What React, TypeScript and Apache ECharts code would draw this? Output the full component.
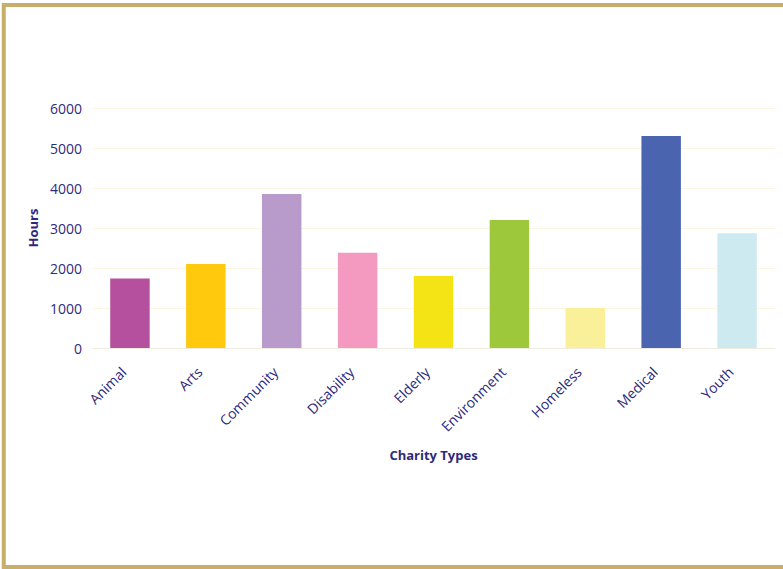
import React, { useEffect, useRef } from "react";
import * as echarts from "echarts";

const categories = ["Animal", "Arts", "Community", "Disability", "Elderly", "Environment", "Homeless", "Medical", "Youth"];
const hours = [1740, 2100, 3850, 2380, 1800, 3200, 1000, 5300, 2870];
const barColors = ["#B5509E", "#FFC90E", "#B89ACB", "#F49AC1", "#F5E415", "#9DC83C", "#FAF09A", "#4A64B0", "#CDEAF0"];
const yTicks = [0, 1000, 2000, 3000, 4000, 5000, 6000];

const textColor = "#2E2A7A";
const font = "'Open Sans', 'Noto Sans', sans-serif";

export default function App() {
  const ref = useRef<HTMLDivElement>(null);
  useEffect(() => {
    if (!ref.current) return;
    const chart = echarts.init(ref.current, null, { renderer: "svg" });
    chart.setOption({
      animation: false,
      backgroundColor: "#ffffff",
      grid: { left: 92, right: 8, top: 108, bottom: 221 },
      graphic: [
        {
          type: "rect",
          shape: { x: 3.75, y: 5, width: 900, height: 562 },
          style: { fill: "none", stroke: "#C9AE6B", lineWidth: 4 },
          silent: true,
        },
      ],
      xAxis: {
        type: "category",
        data: categories,
        name: "Charity Types",
        nameLocation: "middle",
        nameGap: 100,
        nameTextStyle: { color: textColor, fontFamily: font, fontWeight: "bold", fontSize: 13 },
        axisLine: { show: true, lineStyle: { color: "#F1ECE0", width: 1 } },
        axisTick: { show: false },
        axisLabel: { rotate: 45, color: textColor, fontFamily: font, fontSize: 14, margin: 15, interval: 0, padding: [0, 9, 0, 0] },
        splitLine: { show: false },
      },
      yAxis: {
        type: "value",
        min: yTicks[0],
        max: yTicks[yTicks.length - 1],
        interval: 1000,
        name: "Hours",
        nameLocation: "middle",
        nameGap: 52,
        nameRotate: 90,
        nameTextStyle: { color: textColor, fontFamily: font, fontWeight: "bold", fontSize: 13 },
        axisLine: { show: false },
        axisTick: { show: false },
        axisLabel: { color: textColor, fontFamily: font, fontSize: 14, margin: 10, formatter: (v: number) => String(v) },
        splitLine: { show: true, lineStyle: { color: "#FBF5E2", width: 1 } },
      },
      series: [
        {
          type: "bar",
          data: hours.map((v, i) => ({ value: v, itemStyle: { color: barColors[i] } })),
          barWidth: "52%",
        },
      ],
    });
    return () => chart.dispose();
  }, []);
  return <div ref={ref} style={{ position: "fixed", left: 0, top: 0, width: 783, height: 569 }} />;
}
